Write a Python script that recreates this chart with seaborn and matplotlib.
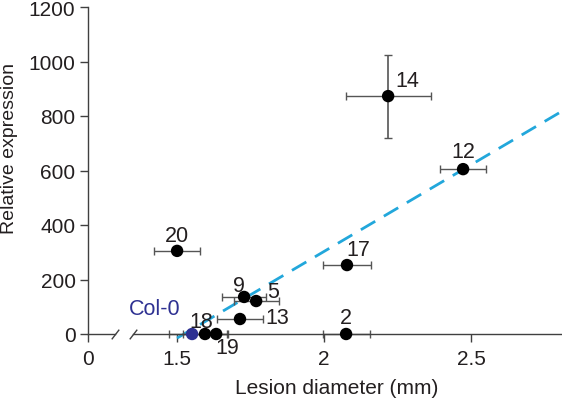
import numpy as np
import pandas as pd
import seaborn as sns
import matplotlib.pyplot as plt

# ---- data ----
lines = ['Col-0', '2', '5', '9', '12', '13', '14', '17', '18', '19', '20']
lesion = [1.551, 2.075, 1.769, 1.728, 2.473, 1.714, 2.218, 2.078, 1.595, 1.633, 1.500]
lesion_err = [0.078, 0.080, 0.077, 0.075, 0.078, 0.078, 0.145, 0.083, 0.075, 0.040, 0.077]
expression = [0, 0, 121, 136, 605, 55, 873, 253, 0, 0, 305]
expression_err = [0, 0, 0, 0, 0, 0, 152, 0, 0, 0, 0]
fit_x = [1.50, 2.81]
fit_y = [-15, 818]
y_ticks = [0, 200, 400, 600, 800, 1000, 1200]
x_ticks = [1.5, 2, 2.5]
x_ticklabels = ['1.5', '2', '2.5']

df = pd.DataFrame({'line': lines, 'lesion': lesion, 'lesion_err': lesion_err,
                   'expression': expression, 'expression_err': expression_err})
df['group'] = np.where(df['line'] == 'Col-0', 'wt', 'mut')

# label offsets in points (style)
offsets = {'Col-0': (-27, 18), '2': (0, 12), '5': (12, 7), '9': (-4, 8),
           '12': (0, 13), '13': (27, 1), '14': (14, 11), '17': (8, 11),
           '18': (-3, 9), '19': (8, -10), '20': (0, 11)}

sns.set_theme(style='ticks')
plt.rcParams['font.family'] = ['Liberation Sans', 'DejaVu Sans']
txt = '#231f20'
axc = '#404040'

W, H = 562, 406
fig = plt.figure(figsize=(W / 100, H / 100), dpi=100)
y0, y1 = 335, 8
axL = fig.add_axes([88 / W, (H - y0) / H, 27 / W, (y0 - y1) / H])
axR = fig.add_axes([133 / W, (H - y0) / H, (W - 133) / W, (y0 - y1) / H], sharey=axL)

for ax in (axL, axR):
    for s in ('top', 'right'):
        ax.spines[s].set_visible(False)
    for s in ('left', 'bottom'):
        ax.spines[s].set_color(axc)
        ax.spines[s].set_linewidth(1.0)
    ax.tick_params(colors=axc, labelcolor=txt, labelsize=15, width=1.0, length=6)
    ax.tick_params(axis='x', pad=5)
    ax.tick_params(axis='y', pad=3)

axL.set_ylim(0, 1200)
axL.set_yticks(y_ticks)
axL.set_xlim(0, 0.092)
axL.set_xticks([0])
axL.set_xticklabels(['0'])

axR.spines['left'].set_visible(False)
axR.tick_params(axis='y', left=False, labelleft=False)
axR.set_xlim(1.35, 2.8095)
axR.set_xticks(x_ticks)
axR.set_xticklabels(x_ticklabels)

# regression line
sns.lineplot(x=fit_x, y=fit_y, ax=axR, color='#22a7db', lw=2.0,
             linestyle=(0, (6, 3.6)), clip_on=False, zorder=2)

# error bars
eb = axR.errorbar(df['lesion'], df['expression'], xerr=df['lesion_err'], fmt='none',
                  ecolor='#555555', elinewidth=1.0, capsize=3.2, capthick=1.0, zorder=2)
for a in eb.get_children():
    a.set_clip_on(False)
sub = df[df['expression_err'] > 0]
eb2 = axR.errorbar(sub['lesion'], sub['expression'], yerr=sub['expression_err'], fmt='none',
                   ecolor='#555555', elinewidth=1.2, capsize=3.2, capthick=1.0, zorder=2)

# points
sns.scatterplot(data=df, x='lesion', y='expression', hue='group',
                palette={'mut': 'black', 'wt': '#2e3192'}, s=80, linewidth=0,
                legend=False, ax=axR, zorder=4, clip_on=False)

for _, r in df.iterrows():
    dx, dy = offsets[r['line']]
    col = '#2e3192' if r['line'] == 'Col-0' else txt
    axR.annotate(r['line'], (r['lesion'], r['expression']), xytext=(dx, dy),
                 textcoords='offset points', ha='center', va='center',
                 fontsize=15.5, color=col, zorder=5, annotation_clip=False)

# axis break marks
mk = dict(marker=[(-1, -1.3), (1, 1.3)], markersize=7, linestyle='none',
          color=axc, mec=axc, mew=1.0, clip_on=False)
axL.plot([1], [0], transform=axL.transAxes, **mk)
axR.plot([0], [0], transform=axR.transAxes, **mk)

axR.set_xlabel('Lesion diameter (mm)', fontsize=15, color=txt)
axR.xaxis.set_label_coords(337 / W, 1 - 379 / H, transform=fig.transFigure)
axL.set_ylabel('Relative expression', fontsize=14, color=txt)
axL.yaxis.set_label_coords(18 / W, 1 - 148 / H, transform=fig.transFigure)
axR.set_ylabel('')

fig.savefig('out.png', dpi=100)
